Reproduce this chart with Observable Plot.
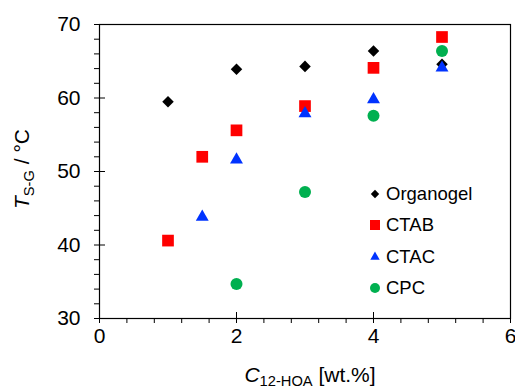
<!DOCTYPE html>
<html><head>
<meta charset="utf-8">
<script src="https://cdn.jsdelivr.net/npm/d3@7"></script>
<script src="https://cdn.jsdelivr.net/npm/@observablehq/plot@0.6"></script>
<style>body{margin:0;background:#fff} svg{display:block}</style>
</head><body><div id="chart"></div>
<script>
// ---- data ----
const seriesNames = ["Organogel", "CTAB", "CTAC", "CPC"];
const organogelX = [1, 2, 3, 4, 5];
const organogelY = [59.5, 63.9, 64.3, 66.4, 64.6];
const ctabX = [1, 1.5, 2, 3, 4, 5];
const ctabY = [40.6, 52.0, 55.6, 58.9, 64.1, 68.3];
const ctacX = [1.5, 2, 3, 4, 5];
const ctacY = [43.8, 51.6, 57.9, 59.8, 64.1];
const cpcX = [2, 3, 4, 5];
const cpcY = [34.7, 47.2, 57.6, 66.4];
const xMajorTicks = [0, 2, 4, 6];
const xMinorTicks = [0.4, 0.8, 1.2, 1.6, 2.4, 2.8, 3.2, 3.6, 4.4, 4.8, 5.2, 5.6];
const yMajorTicks = [30, 40, 50, 60, 70];
const yMinorTicks = [32, 34, 36, 38, 42, 44, 46, 48, 52, 54, 56, 58, 62, 64, 66, 68];

// ---- styles ----
const styles = {
  Organogel: {symbol: "diamond2", fill: "#000000", r: 5.2, d3sym: d3.symbolDiamond2, lsize: 45},
  CTAB: {symbol: "square", fill: "#FF0000", r: 6.6, d3sym: d3.symbolSquare, lsize: 100},
  CTAC: {symbol: "triangle", fill: "#0033FF", r: 4.8, d3sym: d3.symbolTriangle, lsize: 38},
  CPC: {symbol: "circle", fill: "#00B050", r: 6, d3sym: d3.symbolCircle, lsize: 78}
};
const seriesData = {
  Organogel: organogelX.map((x, i) => ({x, y: organogelY[i]})),
  CTAB: ctabX.map((x, i) => ({x, y: ctabY[i]})),
  CTAC: ctacX.map((x, i) => ({x, y: ctacY[i]})),
  CPC: cpcX.map((x, i) => ({x, y: cpcY[i]}))
};

const W = 515, H = 389, mL = 99, mR = 5, mT = 24, mB = 71;
const plotW = W - mL - mR, plotH = H - mT - mB;
const font = "'Liberation Sans', Arial, sans-serif";

const plot = Plot.plot({
  width: W, height: H,
  marginLeft: mL, marginRight: mR, marginTop: mT, marginBottom: mB,
  x: {domain: [0, 6]},
  y: {domain: [30, 70]},
  style: {fontFamily: font, fontSize: "21px", color: "#000", background: "#fff", overflow: "visible"},
  marks: [
    Plot.axisX(xMinorTicks, {tickSize: 5, tickFormat: () => "", label: null}),
    Plot.axisX(xMajorTicks, {tickSize: 5, tickPadding: 5, label: null, tickFormat: d => String(d)}),
    Plot.tickX(xMajorTicks, {x: d => d, insetTop: plotH - 6, stroke: "#000"}),
    Plot.axisY(yMinorTicks, {tickSize: 5, tickFormat: () => "", label: null}),
    Plot.axisY(yMajorTicks, {tickSize: 5, tickPadding: 14, label: null, tickFormat: d => String(d)}),
    Plot.tickY(yMajorTicks, {y: d => d, insetRight: plotW - 6, stroke: "#000"}),
    Plot.frame({stroke: "#000", strokeWidth: 1.2}),
    ...seriesNames.map(name => Plot.dot(seriesData[name], {
      x: "x", y: "y", symbol: styles[name].symbol, r: styles[name].r,
      fill: styles[name].fill, stroke: "none"
    }))
  ]
});

const svg = d3.select(plot);

// Legend
const legendX = 375, legendTextX = 386, legendRows = [194, 225, 257, 288];
const lg = svg.append("g").attr("font-family", font).attr("font-size", 18.5).attr("text-anchor", "start");
seriesNames.forEach((name, i) => {
  lg.append("path")
    .attr("d", d3.symbol(styles[name].d3sym, styles[name].lsize)())
    .attr("transform", `translate(${legendX},${legendRows[i]})`)
    .attr("fill", styles[name].fill);
  lg.append("text")
    .attr("x", legendTextX).attr("y", legendRows[i]).attr("dy", "0.35em")
    .attr("text-anchor", "start")
    .attr("fill", "#000")
    .text(name);
});

// X axis label
const xl = svg.append("text")
  .attr("x", 310).attr("y", 382)
  .attr("text-anchor", "middle")
  .attr("font-family", font).attr("font-size", 21).attr("fill", "#000");
xl.append("tspan").attr("font-style", "italic").text("C");
xl.append("tspan").attr("font-size", 14.7).attr("dy", 4).text("12-HOA");
xl.append("tspan").attr("dy", -4).text(" [wt.%]");

// Y axis label
const yl = svg.append("text")
  .attr("transform", "translate(28.5,169) rotate(-90)")
  .attr("text-anchor", "middle")
  .attr("font-family", font).attr("font-size", 21).attr("fill", "#000");
yl.append("tspan").attr("font-style", "italic").text("T");
yl.append("tspan").attr("font-size", 14.7).attr("dy", 5).text("S-G");
yl.append("tspan").attr("dy", -5).text(" / \u00B0C");

document.getElementById("chart").appendChild(plot);
</script>
</body></html>
